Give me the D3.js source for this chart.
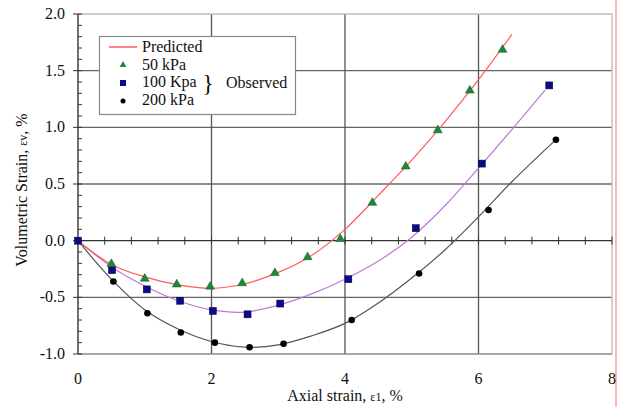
<!DOCTYPE html>
<html lang="en">
<head>
    <meta charset="UTF-8">
    <title>Volumetric strain vs axial strain</title>
    <script src="https://d3js.org/d3.v7.min.js"></script>
    <style>
        body { margin: 0; background: #fff; }
        text { font-family: "Liberation Serif", "Times New Roman", serif; fill: #111; }
    </style>
</head>
<body>
<script>
    var w = 624;
    var h = 407;

    // predicted curves
    var predX50 = [0, 0.5, 1, 1.5, 2, 2.5, 3, 3.5, 4, 4.5, 5, 5.5, 6, 6.5];
    var predY50 = [0, -0.21, -0.32, -0.39, -0.42, -0.38, -0.28, -0.13, 0.1, 0.4, 0.71, 1.05, 1.42, 1.82];
    var predX100 = [0, 0.5, 1, 1.5, 2, 2.5, 3, 3.5, 4, 4.5, 5, 5.5, 6, 6.5, 7];
    var predY100 = [0, -0.23, -0.40, -0.53, -0.61, -0.63, -0.57, -0.47, -0.34, -0.18, 0.03, 0.31, 0.64, 0.98, 1.33];
    var predX200 = [0, 0.5, 1, 1.5, 2, 2.5, 3, 3.5, 4, 4.5, 5, 5.5, 6, 6.5, 7.12];
    var predY200 = [0, -0.34, -0.61, -0.78, -0.89, -0.94, -0.92, -0.84, -0.73, -0.55, -0.33, -0.08, 0.21, 0.52, 0.87];

    // observed points
    var obsX50 = [0, 0.5, 1.0, 1.48, 1.98, 2.46, 2.95, 3.44, 3.93, 4.41, 4.91, 5.39, 5.87, 6.36];
    var obsY50 = [0, -0.21, -0.34, -0.39, -0.41, -0.38, -0.29, -0.15, 0.01, 0.33, 0.65, 0.97, 1.32, 1.68];
    var obsX100 = [0, 0.51, 1.03, 1.53, 2.02, 2.54, 3.03, 4.05, 5.06, 6.05, 7.06];
    var obsY100 = [0, -0.26, -0.43, -0.53, -0.62, -0.65, -0.555, -0.34, 0.11, 0.68, 1.37];
    var obsX200 = [0, 0.53, 1.04, 1.54, 2.05, 2.57, 3.08, 4.1, 5.11, 6.15, 7.16];
    var obsY200 = [0, -0.36, -0.64, -0.81, -0.90, -0.94, -0.91, -0.70, -0.29, 0.27, 0.89];

    var xTicks = [0, 2, 4, 6, 8];
    var yTicks = [-1.0, -0.5, 0.0, 0.5, 1.0, 1.5, 2.0];

    var padL = 78, padR = 612, padT = 14, padB = 354;

    var xScale = d3.scaleLinear().domain([0, 8]).range([padL, padR]);
    var yScale = d3.scaleLinear().domain([-1, 2]).range([padB, padT]);

    var svg = d3.select("body")
        .append("svg")
        .attr("width", w)
        .attr("height", h);

    // horizontal grid lines
    svg.selectAll(".hgrid")
        .data(yTicks.filter(function(d) { return d !== 0 && d !== 2 && d !== -1; }))
        .enter()
        .append("line")
        .attr("x1", padL).attr("x2", padR)
        .attr("y1", function(d) { return yScale(d); })
        .attr("y2", function(d) { return yScale(d); })
        .attr("stroke", "#666")
        .attr("stroke-width", 1.3);

    // vertical grid lines
    svg.selectAll(".vgrid")
        .data([2, 4, 6])
        .enter()
        .append("line")
        .attr("x1", function(d) { return xScale(d); })
        .attr("x2", function(d) { return xScale(d); })
        .attr("y1", padT).attr("y2", padB)
        .attr("stroke", "#555")
        .attr("stroke-width", 1.3);

    // top and right border
    svg.append("path")
        .attr("d", "M" + padL + "," + yScale(2) + "H" + padR + "V" + padB)
        .attr("fill", "none")
        .attr("stroke", "#bbb")
        .attr("stroke-width", 1.3);

    // pink line at the right edge
    svg.append("line")
        .attr("x1", 616).attr("x2", 616)
        .attr("y1", 0).attr("y2", h)
        .attr("stroke", "#f08a8a")
        .attr("stroke-width", 1.2);

    // zero line with minor ticks
    svg.append("line")
        .attr("x1", padL).attr("x2", padR)
        .attr("y1", yScale(0)).attr("y2", yScale(0))
        .attr("stroke", "#333")
        .attr("stroke-width", 1.3);

    svg.selectAll(".xminor")
        .data(d3.range(1, 21).map(function(i) { return i * 0.4; }))
        .enter()
        .append("line")
        .attr("x1", function(d) { return xScale(d); })
        .attr("x2", function(d) { return xScale(d); })
        .attr("y1", yScale(0) - 4).attr("y2", yScale(0) + 4)
        .attr("stroke", "#333")
        .attr("stroke-width", 1);

    // bottom border
    svg.append("line")
        .attr("x1", padL).attr("x2", padR)
        .attr("y1", padB).attr("y2", padB)
        .attr("stroke", "#888")
        .attr("stroke-width", 1.3);

    // left axis
    svg.append("line")
        .attr("x1", padL).attr("x2", padL)
        .attr("y1", padT).attr("y2", padB)
        .attr("stroke", "#222")
        .attr("stroke-width", 1.3);

    svg.selectAll(".yminor")
        .data(d3.range(-10, 21).map(function(i) { return i / 10; }))
        .enter()
        .append("line")
        .attr("x1", padL).attr("x2", padL + 4)
        .attr("y1", function(d) { return yScale(d); })
        .attr("y2", function(d) { return yScale(d); })
        .attr("stroke", "#333")
        .attr("stroke-width", 1);

    svg.selectAll(".ymajor")
        .data(yTicks)
        .enter()
        .append("line")
        .attr("x1", padL - 5).attr("x2", padL)
        .attr("y1", function(d) { return yScale(d); })
        .attr("y2", function(d) { return yScale(d); })
        .attr("stroke", "#333")
        .attr("stroke-width", 1);

    // tick labels
    svg.selectAll(".ylab")
        .data(yTicks)
        .enter()
        .append("text")
        .attr("x", 65)
        .attr("y", function(d) { return yScale(d) + 5; })
        .attr("text-anchor", "end")
        .attr("font-size", "16px")
        .text(function(d) { return d3.format(".1f")(d).replace("\u2212", "-"); });

    svg.selectAll(".xlab")
        .data(xTicks)
        .enter()
        .append("text")
        .attr("x", function(d) { return xScale(d); })
        .attr("y", 384)
        .attr("text-anchor", "middle")
        .attr("font-size", "16px")
        .text(function(d) { return d; });

    // axis titles
    var xt = svg.append("text")
        .attr("x", 345)
        .attr("y", 401)
        .attr("text-anchor", "middle")
        .attr("font-size", "16px");
    xt.append("tspan").text("Axial strain, ");
    xt.append("tspan").attr("font-size", "12px").text("\u03b51");
    xt.append("tspan").text(", %");

    var yt = svg.append("text")
        .attr("transform", "translate(27,190) rotate(-90)")
        .attr("text-anchor", "middle")
        .attr("font-size", "16px");
    yt.append("tspan").text("Volumetric Strain, ");
    yt.append("tspan").attr("font-size", "12px").text("\u03b5v");
    yt.append("tspan").text(", %");

    // predicted curves
    var line = d3.line()
        .x(function(d) { return xScale(d[0]); })
        .y(function(d) { return yScale(d[1]); })
        .curve(d3.curveCatmullRom);

    function pairs(xs, ys) {
        return xs.map(function(x, i) { return [x, ys[i]]; });
    }

    var curves = [
        { pts: pairs(predX200, predY200), color: "#555" },
        { pts: pairs(predX100, predY100), color: "#c07ad4" },
        { pts: pairs(predX50, predY50), color: "#ff5a5a" }
    ];

    svg.selectAll(".pred")
        .data(curves)
        .enter()
        .append("path")
        .attr("d", function(d) { return line(d.pts); })
        .attr("fill", "none")
        .attr("stroke", function(d) { return d.color; })
        .attr("stroke-width", 1.2);

    // observed markers
    var tri = d3.symbol().type(d3.symbolTriangle).size(34);

    svg.selectAll(".o200")
        .data(pairs(obsX200, obsY200))
        .enter()
        .append("circle")
        .attr("cx", function(d) { return xScale(d[0]); })
        .attr("cy", function(d) { return yScale(d[1]); })
        .attr("r", 3.3)
        .attr("fill", "#000");

    svg.selectAll(".o100")
        .data(pairs(obsX100, obsY100))
        .enter()
        .append("rect")
        .attr("x", function(d) { return xScale(d[0]) - 3.5; })
        .attr("y", function(d) { return yScale(d[1]) - 3.5; })
        .attr("width", 7).attr("height", 7)
        .attr("fill", "#0b0b8a")
        .attr("stroke", "#000030")
        .attr("stroke-width", 0.5);

    svg.selectAll(".o50")
        .data(pairs(obsX50, obsY50).slice(1))
        .enter()
        .append("path")
        .attr("d", tri)
        .attr("transform", function(d) { return "translate(" + xScale(d[0]) + "," + (yScale(d[1]) - 0.5) + ")"; })
        .attr("fill", "#1a8a3a")
        .attr("stroke", "#0a5a20")
        .attr("stroke-width", 0.5);

    // legend
    var lg = svg.append("g");
    lg.append("rect")
        .attr("x", 99.5).attr("y", 36.5)
        .attr("width", 196).attr("height", 78)
        .attr("fill", "#fff")
        .attr("stroke", "#888")
        .attr("stroke-width", 1.2);

    lg.append("line")
        .attr("x1", 109).attr("x2", 137)
        .attr("y1", 47).attr("y2", 47)
        .attr("stroke", "#ff5a5a")
        .attr("stroke-width", 1.5);
    lg.append("path")
        .attr("d", d3.symbol().type(d3.symbolTriangle).size(20))
        .attr("transform", "translate(123,65)")
        .attr("fill", "#1a8a3a");
    lg.append("rect")
        .attr("x", 120).attr("y", 80)
        .attr("width", 6).attr("height", 6)
        .attr("fill", "#0b0b8a");
    lg.append("circle")
        .attr("cx", 123).attr("cy", 101)
        .attr("r", 2.5)
        .attr("fill", "#000");

    var legendLabels = ["Predicted", "50 kPa", "100 Kpa", "200 kPa"];
    lg.selectAll(".lt")
        .data(legendLabels)
        .enter()
        .append("text")
        .attr("x", 142)
        .attr("y", function(d, i) { return 52 + i * 17.7; })
        .attr("font-size", "16px")
        .text(function(d) { return d; });

    lg.append("text")
        .attr("x", 208)
        .attr("y", 91)
        .attr("text-anchor", "middle")
        .attr("font-size", "24px")
        .text("}");

    lg.append("text")
        .attr("x", 226)
        .attr("y", 88)
        .attr("font-size", "16px")
        .text("Observed");
</script>
</body>
</html>
